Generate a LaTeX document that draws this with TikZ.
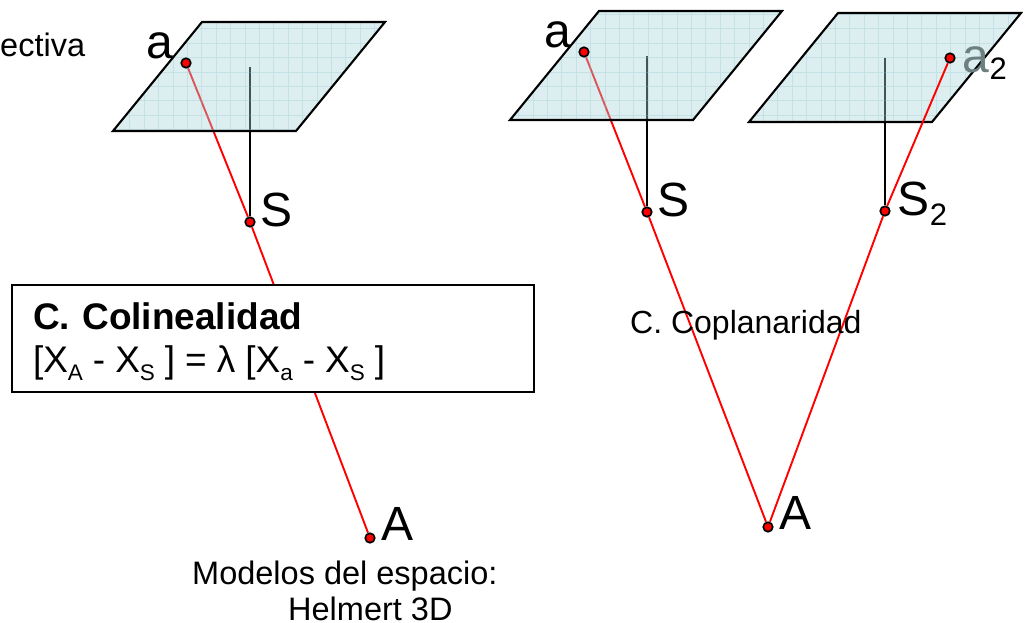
\documentclass[tikz,border=0pt]{standalone}
\usepackage{fontspec}
\setmainfont{Liberation Sans}
\usetikzlibrary{positioning,backgrounds}
\definecolor{planefill}{HTML}{A8D4D9}
\definecolor{planegrid}{HTML}{8CC6CE}
\definecolor{rayred}{HTML}{FF0000}
\definecolor{fadeda}{HTML}{6E7F80}
\newcommand{\lowtxt}[1]{\raisebox{-0.2em}{\fontsize{22.5}{22.5}\selectfont #1}}
\newcommand{\lowbig}[2][-0.2em]{\raisebox{#1}{\fontsize{31}{31}\selectfont #2}}

\begin{document}
\begin{tikzpicture}[
  x=1pt,y=-1pt,
  pt/.style      ={draw=black,fill=red,circle,line width=1.7pt,inner sep=0pt,minimum size=9.5pt},
  ray/.style     ={draw=rayred,line width=1.9pt},
  axisln/.style  ={draw=black,line width=2pt},
  plane/.style   ={draw=black,line width=2.1pt},
  ptlabel/.style ={font=\fontsize{48}{48}\selectfont,inner sep=0pt},
  note/.style    ={font=\fontsize{32.5}{38}\selectfont,inner sep=0pt},
  formula/.style ={draw=black,line width=2pt,fill=white,minimum width=522pt,minimum height=107pt,
                   text width=480pt,align=left,inner sep=0pt,font=\fontsize{37}{43}\selectfont},
]
\useasboundingbox (0,0) rectangle (1027,623);

%% ============================================================
%%  Points
%% ============================================================
\node[pt] (a1) at (186,63) {};
\node[pt] (S1) at (250,222) {};
\node[pt] (A1) at (370,538) {};
\node[pt] (a2) at (584,52) {};
\node[pt] (S2) at (647,212) {};
\node[pt] (A2) at (768,527) {};
\node[pt] (a3) at (950,58) {};
\node[pt] (S3) at (885,211) {};
\coordinate (top1) at (250,67);
\coordinate (top2) at (647,56);
\coordinate (top3) at (885,58);

%% ============================================================
%%  Rays, then the photo planes over them
%% ============================================================
\begin{scope}[on background layer]
  \draw[ray] (a1) -- (S1);
  \draw[ray] (S1) -- (A1);
  \draw[ray] (a2) -- (S2);
  \draw[ray] (S2) -- (A2);
  \draw[ray] (S3) -- (A2);
  \draw[axisln] (top1) -- (S1);
  \draw[axisln] (top2) -- (S2);
  \draw[axisln] (top3) -- (S3);
  \foreach \px/\py in {113/131,510/120,749/122}{
    \fill[planefill,fill opacity=0.4] (\px,\py) -- ++(183,0) -- ++(89,-109) -- ++(-183,0) -- cycle;
    \begin{scope}
      \clip (\px,\py) -- ++(183,0) -- ++(89,-109) -- ++(-183,0) -- cycle;
      \draw[planegrid,opacity=0.3,line width=0.6pt,step=14.4pt] (\px-10,\py+10) grid ++(300,-130);
    \end{scope}
    \draw[plane] (\px,\py) -- ++(183,0) -- ++(89,-109) -- ++(-183,0) -- cycle;
  }
  %% this ray lies in front of its plane
  \draw[ray] (a3) -- (S3);
\end{scope}

%% ============================================================
%%  Point labels
%% ============================================================
\node[ptlabel,above left=0pt and 9pt of a1] (la1) {a};
\node[ptlabel,above left=0pt and 9pt of a2] (la2) {a};
\node[ptlabel,right=5pt of S1,yshift=12pt] (lS1) {S};
\node[ptlabel,right=5pt of S2,yshift=12pt] (lS2) {S};
\node[ptlabel,right=6pt of A1,yshift=14pt] (lA1) {A};
\node[ptlabel,right=6pt of A2,yshift=14pt] (lA2) {A};
\node[ptlabel,right=7pt of S3,yshift=7pt] (lS3) {S\lowbig{2}};
\node[ptlabel,right=7pt of a3,yshift=-5pt] (la3) {\textcolor{fadeda}{a}\lowbig[-7pt]{2}};

%% ============================================================
%%  Texts
%% ============================================================
\node[note,anchor=base west] (persp) at (0,57) {ectiva};
\node[note,anchor=base west,font=\fontsize{32}{38}\selectfont] (copla) at (630,333) {C. Coplanaridad};
\node[note,anchor=base west] (model) at (192,584) {Modelos del espacio:};
\node[note,anchor=base west] (helm) at (288,620) {Helmert 3D};

%% ============================================================
%%  Equation box
%% ============================================================
\node[formula] (colin) at (273,338.5)
      {\rule{0pt}{33pt}\textbf{C. Colinealidad}\\{}%
       {\spaceskip=0.27em [X\lowtxt{A} - X\lowtxt{S} ] = λ [X\lowtxt{a} - X\lowtxt{S} ]}};

\end{tikzpicture}
\end{document}
